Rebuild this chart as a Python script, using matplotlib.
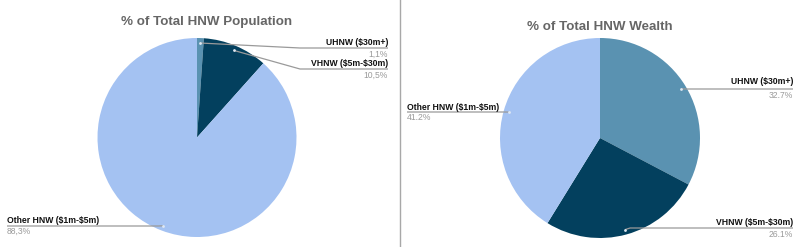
import numpy as np
import matplotlib
matplotlib.use('Agg')
from matplotlib import pyplot as plt

plt.rcParams['font.family'] = ['Liberation Sans', 'DejaVu Sans']
plt.rcParams['text.parse_math'] = False  # labels contain "$"

# data
segments = ['UHNW ($30m+)', 'VHNW ($5m-$30m)', 'Other HNW ($1m-$5m)']
population_pct = [1.1, 10.5, 88.3]
population_labels = ['1,1%', '10,5%', '88,3%']
wealth_pct = [32.7, 26.1, 41.2]
wealth_labels = ['32.7%', '26.1%', '41.2%']
titles = ['% of Total HNW Population', '% of Total HNW Wealth']

colors = ['#5a92b1', '#03405e', '#a4c2f2']
H = 247  # work in pixels, y measured from top


def px(y):
    return H - y


fig = plt.figure(figsize=(8, 2.47), dpi=100)
ax = fig.add_axes([0, 0, 1, 1])

panels = [
    dict(vals=population_pct, labels=population_labels, center=(197, 137.5), r=99.5,
         title=titles[0], title_xy=(207, 22),
         # (text x, name y, line y, pct y, align, elbow x)
         lbl=[(388, 43, 48, 54, 'right', 300),
              (388, 63, 69, 75, 'right', 300),
              (7, 220, 226, 231, 'left', None)]),
    dict(vals=wealth_pct, labels=wealth_labels, center=(600, 138), r=100,
         title=titles[1], title_xy=(600, 27),
         lbl=[(793, 82, 89, 95, 'right', None),
              (793, 222, 228, 234, 'right', None),
              (407, 107, 112, 118, 'left', None)]),
]

for p in panels:
    cx, cy = p['center']
    wedges, _ = ax.pie(p['vals'], colors=colors, startangle=90, counterclock=False,
                       center=(cx, px(cy)), radius=p['r'],
                       wedgeprops=dict(linewidth=0))
    ax.text(p['title_xy'][0], px(p['title_xy'][1]), p['title'], ha='center', va='center',
            fontsize=9.6, fontweight='bold', color='#666666')
    for w, name, pct, (tx, ny, ly, py, al, ex) in zip(wedges, segments, p['labels'], p['lbl']):
        mid = np.deg2rad((w.theta1 + w.theta2) / 2)
        axx = cx + 0.95 * p['r'] * np.cos(mid)
        ayy = px(cy) + 0.95 * p['r'] * np.sin(mid)
        if ex is None:
            xs = [axx, axx + (5 if al == 'right' else -5), tx]
        else:
            xs = [axx, ex, tx]
        ys = [ayy, px(ly), px(ly)]
        ax.plot(xs, ys, color='#9a9a9a', lw=0.9, solid_capstyle='butt')
        ax.plot(axx, ayy, 'o', ms=2, mfc='#dfe8f2', mec='none')
        ax.text(tx, px(ny), name, ha=al, va='center', fontsize=6.2, fontweight='bold',
                color='#111111')
        ax.text(tx, px(py), pct, ha=al, va='center', fontsize=6.2, color='#9a9a9a')

ax.axvline(400, color='#a8a8a8', lw=1)
ax.set_xlim(0, 800)
ax.set_ylim(0, H)
ax.set_aspect('auto')
ax.axis('off')

fig.savefig('out.png', dpi=100)
